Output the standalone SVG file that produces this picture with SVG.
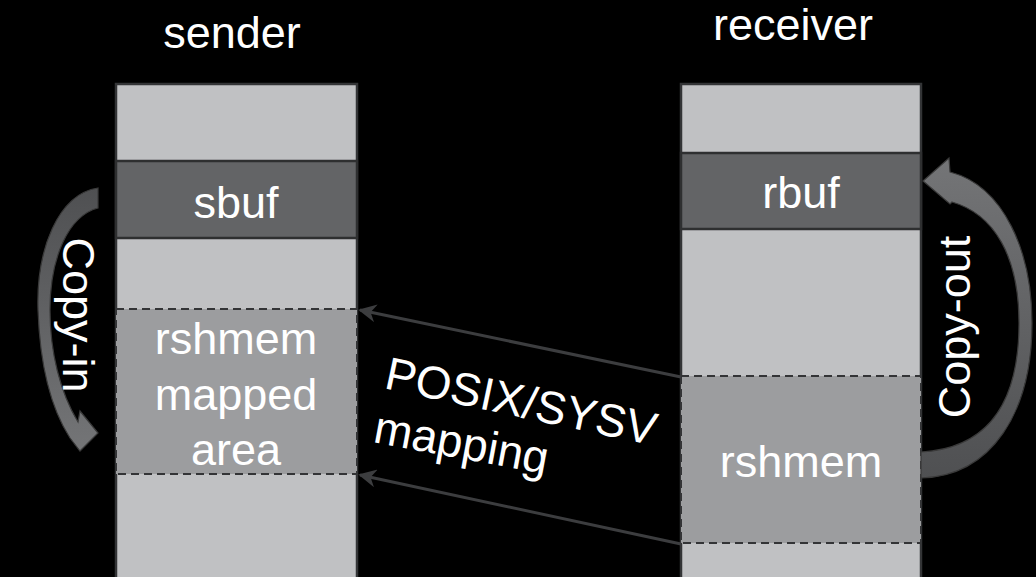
<svg xmlns="http://www.w3.org/2000/svg" width="1036" height="577" viewBox="0 0 1036 577">
<defs>
<style>
.col{fill:#c0c1c3;stroke:#333436;stroke-width:2.5}
.buf{fill:#636466;stroke:#2e2f30;stroke-width:2.5}
.shm{fill:#9c9d9f;stroke:#333436;stroke-width:2;stroke-dasharray:8,5}
.t{font-family:"Liberation Sans",Arial,sans-serif;font-size:45px;fill:#ffffff;text-anchor:middle}
.ts{text-anchor:start;font-size:46px}
.conn{stroke:#3c3d3f;stroke-width:3;fill:none;marker-end:url(#ah)}
.curve{stroke:#3a3a3a;stroke-width:1.2}
</style>
<marker id="ah" viewBox="0 0 10 10" refX="9" refY="5" markerWidth="6" markerHeight="6" orient="auto" markerUnits="strokeWidth">
<path d="M0,0 L10,5 L0,10 L3,5 Z" fill="#3c3d3f"/>
</marker>
<linearGradient id="gin" x1="0" y1="0" x2="0" y2="1">
<stop offset="0" stop-color="#4f5052"/>
<stop offset="1" stop-color="#747577"/>
</linearGradient>
<linearGradient id="gout" x1="0" y1="1" x2="0" y2="0">
<stop offset="0" stop-color="#4f5052"/>
<stop offset="1" stop-color="#747577"/>
</linearGradient>
</defs>
<rect x="0" y="0" width="1036" height="577" fill="#000"/>
<text class="t" x="232" y="48">sender</text>
<text class="t" x="793" y="40">receiver</text>
<g id="sender">
<rect class="col" x="116" y="84" width="241" height="500"/>
<rect class="buf" x="116" y="161" width="241" height="77"/>
<text class="t" x="236" y="218">sbuf</text>
<rect class="shm" x="116" y="309" width="241" height="165"/>
<text class="t" x="236" y="354">rshmem</text>
<text class="t" x="236" y="410">mapped</text>
<text class="t" x="236" y="465">area</text>
</g>
<g id="receiver">
<rect class="col" x="681" y="84" width="240" height="500"/>
<rect class="buf" x="681" y="153" width="240" height="76"/>
<text class="t" x="801" y="208">rbuf</text>
<rect class="shm" x="681" y="376" width="240" height="167"/>
<text class="t" x="801" y="477">rshmem</text>
</g>
<g id="copy-in">
<path class="curve" fill="url(#gin)" d="M98,188 C58,194 36,250 38,310 C40,368 52,410 70,438 L80,451 L98,433 L80,411 L78,422 C60,392 50,352 50,310 C50,258 68,216 98,208 Z"/>
<text class="t" transform="translate(63,315) rotate(90)">Copy-in</text>
</g>
<g id="copy-out">
<path class="curve" fill="url(#gout)" d="M921,452 C992,448 1019,398 1019,323 C1019,256 994,214 952,202 L950,204 L923,181 L949,158 L950,172 C1004,186 1032,252 1032,323 C1032,412 992,476 921,478 Z"/>
<text class="t" transform="translate(970,327) rotate(-90)">Copy-out</text>
</g>
<g id="connectors">
<line class="conn" x1="681" y1="377" x2="360" y2="310"/>
<line class="conn" x1="681" y1="544" x2="360" y2="475"/>
</g>
<g id="mapping-label">
<text class="t ts" transform="translate(383,388) rotate(12)">POSIX/SYSV</text>
<text class="t ts" transform="translate(372,442) rotate(10.5)">mapping</text>
</g>
</svg>
